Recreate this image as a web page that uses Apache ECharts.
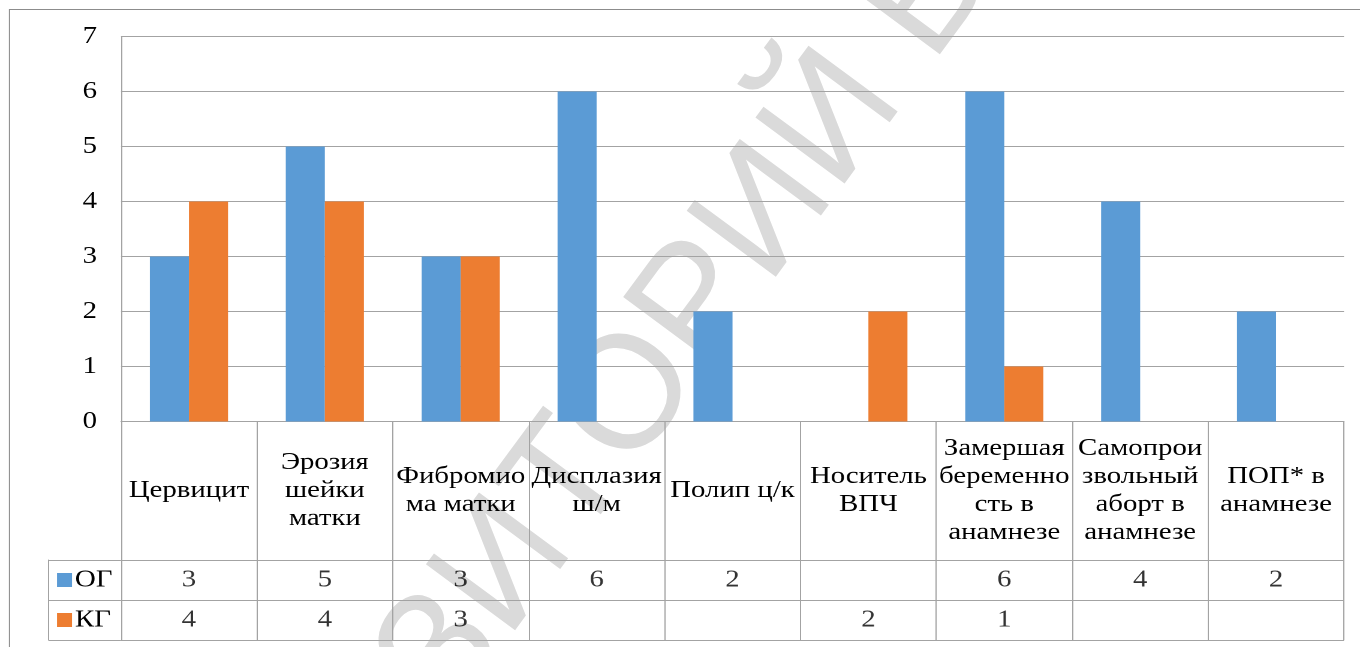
<!DOCTYPE html>
<html>
<head>
<meta charset="utf-8">
<script src="https://cdn.jsdelivr.net/npm/echarts@6/dist/echarts.min.js"></script>
<style>
  html, body { margin: 0; padding: 0; background: #fff; }
  #wrap { position: relative; width: 1360px; height: 647px; overflow: hidden; background: #fff; }
  #wm { position: absolute; z-index: 0; white-space: nowrap; pointer-events: none; line-height: 1;
        font-family: 'Liberation Sans', Arial, sans-serif; font-size: 161px; color: #dadada;
        transform: translate(-50%, -50%) rotate(-53.6deg); }
  #chart { position: absolute; z-index: 1; left: 0; top: 0; width: 1134px; height: 647px; transform-origin: 0 0; }
</style>
</head>
<body>
<div id="wrap">
  <div id="wm">РЕПОЗИТОРИЙ ВГУ</div>
  <div id="chart"></div>
</div>
<script>
// ---- data ----
const categories = ['Цервицит', 'Эрозия\nшейки\nматки', 'Фибромио\nма матки', 'Дисплазия\nш/м', 'Полип ц/к',
  'Носитель\nВПЧ', 'Замершая\nбеременно\nсть в\nанамнезе', 'Самопрои\nзвольный\nаборт в\nанамнезе', 'ПОП* в\nанамнезе'];
const seriesNames = ['ОГ', 'КГ'];
const ogValues = [3, 5, 3, 6, 2, null, 6, 4, 2];
const kgValues = [4, 4, 3, null, null, 2, 1, null, null];
const yMin = 0, yMax = 7, yStep = 1;

// ---- layout ----
const W = 1134;
const S = 1360 / W;               // horizontal stretch of the original picture
const cx = v => v / S;
document.getElementById('chart').style.transform = 'scaleX(' + S + ')';
const wm = document.getElementById('wm');
wm.style.left = '599px'; wm.style.top = '423px';

const colors = ['#5B9BD5', '#ED7D31'];
const lineCol = '#a3a3a3';
const font = 'Liberation Serif';
const fs = 24;

const gridLeft = cx(121), gridRight = W - cx(1344);
const tableTop = 560, tableBottom = 640;

const tableData = [];
[ogValues, kgValues].forEach((arr, r) => arr.forEach((v, i) => { if (v !== null) tableData.push([i, r, v]); }));

const chart = echarts.init(document.getElementById('chart'), null, { renderer: 'canvas', devicePixelRatio: 2 });
chart.setOption({
  animation: false,
  backgroundColor: 'transparent',
  color: colors,
  textStyle: { fontFamily: font },
  graphic: [{
    type: 'rect', z: -10, silent: true,
    shape: { x: cx(9.5), y: 9.5, width: 3000, height: 3000 },
    style: { fill: 'none', stroke: '#8c8c8c', lineWidth: 1 }
  }],
  grid: [
    { left: gridLeft, right: gridRight, top: 36.5, bottom: 647 - 421.5 },
    { left: gridLeft, right: gridRight, top: tableTop, height: tableBottom - tableTop }
  ],
  xAxis: [
    {
      type: 'category', gridIndex: 0, data: categories,
      axisLine: { show: true, lineStyle: { color: lineCol, width: 1 } },
      axisTick: { show: true, interval: 0, length: tableBottom - 421.5, lineStyle: { color: lineCol, width: 1 } },
      axisLabel: { interval: 0, margin: 69, verticalAlign: 'middle', fontSize: fs, lineHeight: 28,
                   color: '#000', fontFamily: font, align: 'center' }
    },
    {
      type: 'category', gridIndex: 1, data: categories,
      axisLine: { show: false }, axisTick: { show: false }, axisLabel: { show: false }
    }
  ],
  yAxis: [
    {
      type: 'value', gridIndex: 0, min: yMin, max: yMax, interval: yStep,
      axisLine: { show: true, lineStyle: { color: lineCol, width: 1 } },
      axisTick: { show: false },
      splitLine: { show: true, lineStyle: { color: lineCol, width: 1 } },
      axisLabel: { margin: cx(24), fontSize: fs, color: '#000', fontFamily: font }
    },
    {
      type: 'category', gridIndex: 1, data: seriesNames, inverse: true,
      axisLine: { show: true, lineStyle: { color: lineCol, width: 1 } },
      axisTick: { show: true, length: cx(121 - 48.5), lineStyle: { color: lineCol, width: 1 } },
      splitLine: { show: true, lineStyle: { color: lineCol, width: 1 } },
      axisLabel: {
        align: 'left', margin: cx(121 - 57), fontSize: fs, color: '#000', fontFamily: font,
        formatter: (v, i) => '{s' + i + '|}{t|' + v + '}',
        rich: {
          s0: { backgroundColor: colors[0], width: cx(15), height: 14 },
          s1: { backgroundColor: colors[1], width: cx(15), height: 14 },
          t: { fontSize: fs, fontFamily: font, color: '#000', padding: [0, 0, 0, cx(3)] }
        }
      }
    },
    {
      type: 'category', gridIndex: 1, data: seriesNames, inverse: true, position: 'left',
      offset: cx(121 - 48.5),
      axisLine: { show: true, lineStyle: { color: lineCol, width: 1 } },
      axisTick: { show: false }, axisLabel: { show: false }, splitLine: { show: false }
    }
  ],
  series: [
    { name: seriesNames[0], type: 'bar', xAxisIndex: 0, yAxisIndex: 0, data: ogValues,
      barGap: '0%', barCategoryGap: '42.5%', itemStyle: { color: colors[0] } },
    { name: seriesNames[1], type: 'bar', xAxisIndex: 0, yAxisIndex: 0, data: kgValues,
      barGap: '0%', barCategoryGap: '42.5%', itemStyle: { color: colors[1] } },
    { name: 'table', type: 'scatter', xAxisIndex: 1, yAxisIndex: 1, data: tableData,
      symbolSize: 0, silent: true,
      label: { show: true, position: 'inside', formatter: p => String(p.value[2]),
               fontSize: fs, fontFamily: font, color: '#000' } }
  ]
});
</script>
</body>
</html>
